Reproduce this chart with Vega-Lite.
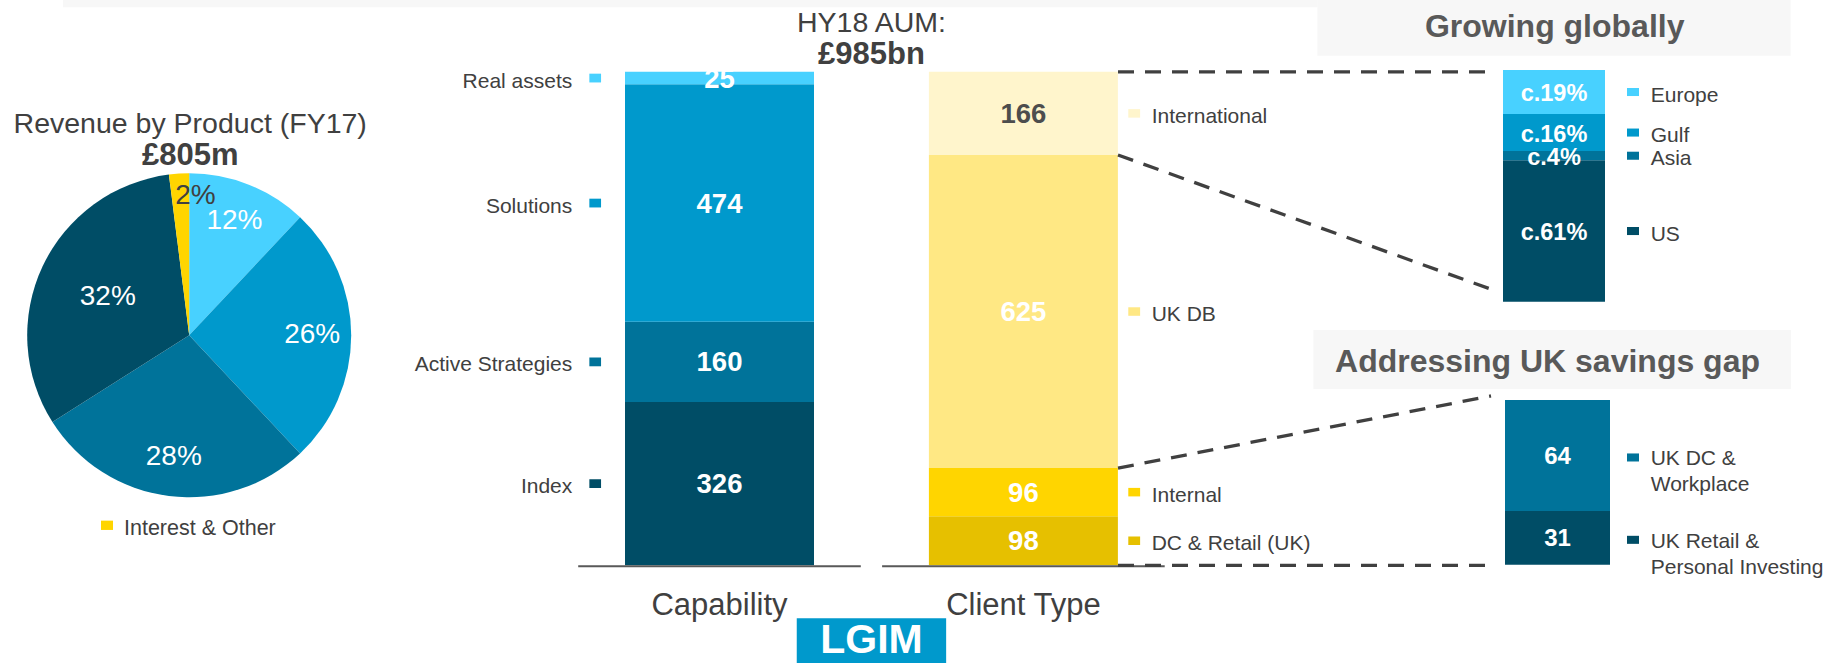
{
  "$schema": "https://vega.github.io/schema/vega-lite/v6.json",
  "width": 1830,
  "height": 663,
  "padding": 0,
  "autosize": {"type": "none"},
  "background": "#FFFFFF",
  "config": {"view": {"stroke": null}, "font": "Liberation Sans"},
  "datasets": {
    "pie": [
      {"segment": "Real assets", "share": 0.12, "rank": 1},
      {"segment": "Solutions", "share": 0.26, "rank": 2},
      {"segment": "Active Strategies", "share": 0.28, "rank": 3},
      {"segment": "Index", "share": 0.32, "rank": 4},
      {"segment": "Interest & Other", "share": 0.02, "rank": 5}
    ],
    "aum": [
      {"chart": "Capability", "segment": "Index", "value": 326, "rank": 1},
      {"chart": "Capability", "segment": "Active Strategies", "value": 160, "rank": 2},
      {"chart": "Capability", "segment": "Solutions", "value": 474, "rank": 3},
      {"chart": "Capability", "segment": "Real assets", "value": 25, "rank": 4},
      {"chart": "Client Type", "segment": "DC & Retail (UK)", "value": 98, "rank": 1},
      {"chart": "Client Type", "segment": "Internal", "value": 96, "rank": 2},
      {"chart": "Client Type", "segment": "UK DB", "value": 625, "rank": 3},
      {"chart": "Client Type", "segment": "International", "value": 166, "rank": 4}
    ],
    "zoom": [
      {"panel": "Growing globally", "segment": "US", "value": 61, "label": "c.61%", "rank": 1},
      {"panel": "Growing globally", "segment": "Asia", "value": 4, "label": "c.4%", "rank": 2},
      {"panel": "Growing globally", "segment": "Gulf", "value": 16, "label": "c.16%", "rank": 3},
      {"panel": "Growing globally", "segment": "Europe", "value": 19, "label": "c.19%", "rank": 4},
      {"panel": "Addressing UK savings gap", "segment": "UK Retail &\nPersonal Investing", "value": 31, "label": "31", "rank": 1},
      {"panel": "Addressing UK savings gap", "segment": "UK DC &\nWorkplace", "value": 64, "label": "64", "rank": 2}
    ],
    "links": [
      {"link": "International top", "end": "Client Type", "aum": 985},
      {"link": "International top", "end": "Zoom", "aum": 985},
      {"link": "International base", "end": "Client Type", "aum": 819},
      {"link": "International base", "end": "Zoom", "aum": 551},
      {"link": "UK DC top", "end": "Client Type", "aum": 194},
      {"link": "UK DC top", "end": "Zoom", "aum": 338},
      {"link": "UK DC base", "end": "Client Type", "aum": 0},
      {"link": "UK DC base", "end": "Zoom", "aum": 0}
    ]
  },
  "resolve": {"scale": {"x": "independent", "y": "independent"}},
  "layer": [
    {
      "data": {"values": [{}]},
      "mark": {"type": "bar", "width": 1254.7, "xOffset": -181.1, "color": "#F7F7F7"},
      "encoding": {
        "x": {"datum": "AUM", "type": "nominal", "scale": {"type": "point", "domain": ["Capability", "AUM", "Client Type"], "range": [719.5, 1023.4], "padding": 0}, "axis": null},
        "y": {"datum": 1113.7, "type": "quantitative", "scale": {"domain": [0, 985], "range": [565.3, 71.8], "nice": false, "zero": false}, "axis": null},
        "y2": {"datum": 1131}
      }
    },
    {
      "data": {"values": [{}]},
      "mark": {"type": "bar", "width": 473.3, "color": "#F7F7F7"},
      "encoding": {
        "x": {"datum": "Growing globally", "type": "nominal", "scale": {"type": "point", "domain": ["Growing globally", "Addressing UK savings gap"], "range": [1554, 1557.5], "padding": 0}, "axis": null},
        "y": {"datum": 106.2, "type": "quantitative", "scale": {"domain": [0, 100], "range": [301.7, 70], "nice": false, "zero": false}, "axis": null},
        "y2": {"datum": 131}
      }
    },
    {
      "data": {"values": [{}]},
      "mark": {"type": "bar", "width": 477.7, "xOffset": -5.3, "color": "#F7F7F7"},
      "encoding": {
        "x": {"datum": "Addressing UK savings gap", "type": "nominal", "scale": {"type": "point", "domain": ["Growing globally", "Addressing UK savings gap"], "range": [1554, 1557.5], "padding": 0}, "axis": null},
        "y": {"datum": 101.3, "type": "quantitative", "scale": {"domain": [0, 95], "range": [564.7, 400], "nice": false, "zero": false}, "axis": null},
        "y2": {"datum": 135.4}
      }
    },
    {
      "data": {"name": "pie"},
      "mark": {"type": "arc", "outerRadius": 162},
      "encoding": {
        "x": {"datum": "pie", "type": "nominal", "scale": {"type": "point", "domain": ["pie"], "range": [189.2, 189.2]}, "axis": null},
        "y": {"datum": "pie", "type": "nominal", "scale": {"type": "point", "domain": ["pie"], "range": [335.3, 335.3]}, "axis": null},
        "theta": {"field": "share", "type": "quantitative", "stack": true, "scale": {"domain": [0, 1], "range": [0, 6.283185]}},
        "order": {"field": "rank", "type": "quantitative"},
        "color": {"field": "segment", "type": "nominal", "legend": null, "scale": {"domain": ["Real assets", "Solutions", "Active Strategies", "Index", "Interest & Other", "International", "UK DB", "Internal", "DC & Retail (UK)", "Europe", "Gulf", "Asia", "US", "UK DC &\nWorkplace", "UK Retail &\nPersonal Investing"], "range": ["#48D1FF", "#0099CC", "#00739A", "#004D66", "#FFD500", "#FFF5CC", "#FFE884", "#FFD500", "#E6C000", "#48D1FF", "#0099CC", "#00739A", "#004D66", "#00739A", "#004D66"]}}
      }
    },
    {
      "data": {"name": "pie"},
      "transform": [
        {"stack": "share", "groupby": [], "sort": [{"field": "rank", "order": "ascending"}], "as": ["t0", "t1"]},
        {"fold": ["t0", "t1"], "as": ["edge", "t"]},
        {"aggregate": [{"op": "mean", "field": "t", "as": "tmid"}], "groupby": ["segment", "share"]},
        {"filter": {"field": "segment", "oneOf": ["Real assets", "Solutions", "Active Strategies"]}}
      ],
      "mark": {"type": "text", "radius": 123, "fontSize": 28, "color": "#FFFFFF", "align": "center", "baseline": "middle"},
      "encoding": {
        "x": {"datum": "pie", "type": "nominal", "scale": {"type": "point", "domain": ["pie"], "range": [189.2, 189.2]}, "axis": null},
        "y": {"datum": "pie", "type": "nominal", "scale": {"type": "point", "domain": ["pie"], "range": [335.3, 335.3]}, "axis": null},
        "theta": {"field": "tmid", "type": "quantitative", "stack": null, "scale": {"domain": [0, 1], "range": [0, 6.283185]}},
        "text": {"field": "share", "type": "quantitative", "format": ".0%"}
      }
    },
    {
      "data": {"name": "pie"},
      "transform": [
        {"stack": "share", "groupby": [], "sort": [{"field": "rank", "order": "ascending"}], "as": ["t0", "t1"]},
        {"fold": ["t0", "t1"], "as": ["edge", "t"]},
        {"aggregate": [{"op": "mean", "field": "t", "as": "tmid"}], "groupby": ["segment", "share"]},
        {"filter": {"field": "segment", "equal": "Index"}}
      ],
      "mark": {"type": "text", "radius": 90, "fontSize": 28, "color": "#FFFFFF", "align": "center", "baseline": "middle"},
      "encoding": {
        "x": {"datum": "pie", "type": "nominal", "scale": {"type": "point", "domain": ["pie"], "range": [189.2, 189.2]}, "axis": null},
        "y": {"datum": "pie", "type": "nominal", "scale": {"type": "point", "domain": ["pie"], "range": [335.3, 335.3]}, "axis": null},
        "theta": {"field": "tmid", "type": "quantitative", "stack": null, "scale": {"domain": [0, 1], "range": [0, 6.283185]}},
        "text": {"field": "share", "type": "quantitative", "format": ".0%"}
      }
    },
    {
      "data": {"name": "pie"},
      "transform": [
        {"stack": "share", "groupby": [], "sort": [{"field": "rank", "order": "ascending"}], "as": ["t0", "t1"]},
        {"fold": ["t0", "t1"], "as": ["edge", "t"]},
        {"aggregate": [{"op": "mean", "field": "t", "as": "tmid"}], "groupby": ["segment", "share"]},
        {"filter": {"field": "segment", "equal": "Interest & Other"}}
      ],
      "mark": {"type": "text", "radius": 140, "dx": 15, "fontSize": 28, "color": "#404040", "align": "center", "baseline": "middle"},
      "encoding": {
        "x": {"datum": "pie", "type": "nominal", "scale": {"type": "point", "domain": ["pie"], "range": [189.2, 189.2]}, "axis": null},
        "y": {"datum": "pie", "type": "nominal", "scale": {"type": "point", "domain": ["pie"], "range": [335.3, 335.3]}, "axis": null},
        "theta": {"field": "tmid", "type": "quantitative", "stack": null, "scale": {"domain": [0, 1], "range": [0, 6.283185]}},
        "text": {"field": "share", "type": "quantitative", "format": ".0%"}
      }
    },
    {
      "data": {"values": [{}]},
      "mark": {"type": "text", "text": "Revenue by Product (FY17)", "fontSize": 28.5, "color": "#404040", "align": "center", "baseline": "alphabetic", "dx": 1, "dy": -202.5},
      "encoding": {
        "x": {"datum": "pie", "type": "nominal", "scale": {"type": "point", "domain": ["pie"], "range": [189.2, 189.2]}, "axis": null},
        "y": {"datum": "pie", "type": "nominal", "scale": {"type": "point", "domain": ["pie"], "range": [335.3, 335.3]}, "axis": null}
      }
    },
    {
      "data": {"values": [{}]},
      "mark": {"type": "text", "text": "£805m", "fontSize": 31, "fontWeight": "bold", "color": "#404040", "align": "center", "baseline": "alphabetic", "dx": 1, "dy": -170.8},
      "encoding": {
        "x": {"datum": "pie", "type": "nominal", "scale": {"type": "point", "domain": ["pie"], "range": [189.2, 189.2]}, "axis": null},
        "y": {"datum": "pie", "type": "nominal", "scale": {"type": "point", "domain": ["pie"], "range": [335.3, 335.3]}, "axis": null}
      }
    },
    {
      "data": {"name": "pie"},
      "transform": [{"filter": {"field": "segment", "equal": "Interest & Other"}}],
      "mark": {"type": "point", "shape": "M-1,-0.775H1V0.775H-1Z", "size": 144, "filled": true, "opacity": 1, "strokeWidth": 0, "xOffset": -82.2, "yOffset": 190},
      "encoding": {
        "x": {"datum": "pie", "type": "nominal", "scale": {"type": "point", "domain": ["pie"], "range": [189.2, 189.2]}, "axis": null},
        "y": {"datum": "pie", "type": "nominal", "scale": {"type": "point", "domain": ["pie"], "range": [335.3, 335.3]}, "axis": null},
        "color": {"field": "segment", "type": "nominal", "legend": null, "scale": {"domain": ["Real assets", "Solutions", "Active Strategies", "Index", "Interest & Other", "International", "UK DB", "Internal", "DC & Retail (UK)", "Europe", "Gulf", "Asia", "US", "UK DC &\nWorkplace", "UK Retail &\nPersonal Investing"], "range": ["#48D1FF", "#0099CC", "#00739A", "#004D66", "#FFD500", "#FFF5CC", "#FFE884", "#FFD500", "#E6C000", "#48D1FF", "#0099CC", "#00739A", "#004D66", "#00739A", "#004D66"]}}
      }
    },
    {
      "data": {"name": "pie"},
      "transform": [{"filter": {"field": "segment", "equal": "Interest & Other"}}],
      "mark": {"type": "text", "fontSize": 21.5, "color": "#404040", "align": "left", "baseline": "alphabetic", "dx": -65.2, "dy": 199.7},
      "encoding": {
        "x": {"datum": "pie", "type": "nominal", "scale": {"type": "point", "domain": ["pie"], "range": [189.2, 189.2]}, "axis": null},
        "y": {"datum": "pie", "type": "nominal", "scale": {"type": "point", "domain": ["pie"], "range": [335.3, 335.3]}, "axis": null},
        "text": {"field": "segment", "type": "nominal"}
      }
    },
    {
      "data": {"values": [{}]},
      "mark": {"type": "text", "text": "HY18 AUM:", "fontSize": 28.5, "color": "#404040", "align": "center", "baseline": "alphabetic", "dy": -39.8},
      "encoding": {
        "x": {"datum": "AUM", "type": "nominal", "scale": {"type": "point", "domain": ["Capability", "AUM", "Client Type"], "range": [719.5, 1023.4], "padding": 0}, "axis": null},
        "y": {"datum": 985, "type": "quantitative", "scale": {"domain": [0, 985], "range": [565.3, 71.8], "nice": false, "zero": false}, "axis": null}
      }
    },
    {
      "data": {"values": [{}]},
      "mark": {"type": "text", "text": "£985bn", "fontSize": 31, "fontWeight": "bold", "color": "#404040", "align": "center", "baseline": "alphabetic", "dy": -8.2},
      "encoding": {
        "x": {"datum": "AUM", "type": "nominal", "scale": {"type": "point", "domain": ["Capability", "AUM", "Client Type"], "range": [719.5, 1023.4], "padding": 0}, "axis": null},
        "y": {"datum": 985, "type": "quantitative", "scale": {"domain": [0, 985], "range": [565.3, 71.8], "nice": false, "zero": false}, "axis": null}
      }
    },
    {
      "data": {"name": "aum"},
      "transform": [{"stack": "value", "groupby": ["chart"], "sort": [{"field": "rank", "order": "ascending"}], "as": ["lo", "hi"]}],
      "mark": {"type": "bar", "width": 189},
      "encoding": {
        "x": {"field": "chart", "type": "nominal", "scale": {"type": "point", "domain": ["Capability", "AUM", "Client Type"], "range": [719.5, 1023.4], "padding": 0}, "axis": null},
        "y": {"field": "lo", "type": "quantitative", "scale": {"domain": [0, 985], "range": [565.3, 71.8], "nice": false, "zero": false}, "axis": null},
        "y2": {"field": "hi"},
        "color": {"field": "segment", "type": "nominal", "legend": null, "scale": {"domain": ["Real assets", "Solutions", "Active Strategies", "Index", "Interest & Other", "International", "UK DB", "Internal", "DC & Retail (UK)", "Europe", "Gulf", "Asia", "US", "UK DC &\nWorkplace", "UK Retail &\nPersonal Investing"], "range": ["#48D1FF", "#0099CC", "#00739A", "#004D66", "#FFD500", "#FFF5CC", "#FFE884", "#FFD500", "#E6C000", "#48D1FF", "#0099CC", "#00739A", "#004D66", "#00739A", "#004D66"]}}
      }
    },
    {
      "data": {"name": "aum"},
      "transform": [
        {"stack": "value", "groupby": ["chart"], "sort": [{"field": "rank", "order": "ascending"}], "as": ["lo", "hi"]},
        {"fold": ["lo", "hi"], "as": ["edge", "pos"]},
        {"aggregate": [{"op": "mean", "field": "pos", "as": "mid"}], "groupby": ["chart", "segment", "value"]}
      ],
      "mark": {"type": "text", "fontSize": 27.5, "fontWeight": "bold", "align": "center", "baseline": "middle", "dy": 1.5},
      "encoding": {
        "x": {"field": "chart", "type": "nominal", "scale": {"type": "point", "domain": ["Capability", "AUM", "Client Type"], "range": [719.5, 1023.4], "padding": 0}, "axis": null},
        "y": {"field": "mid", "type": "quantitative", "scale": {"domain": [0, 985], "range": [565.3, 71.8], "nice": false, "zero": false}, "axis": null},
        "text": {"field": "value", "type": "quantitative"},
        "color": {"condition": {"test": "datum.segment === 'International'", "value": "#4D4D4D"}, "value": "#FFFFFF"}
      }
    },
    {
      "data": {"name": "aum"},
      "transform": [
        {"stack": "value", "groupby": ["chart"], "sort": [{"field": "rank", "order": "ascending"}], "as": ["lo", "hi"]},
        {"fold": ["lo", "hi"], "as": ["edge", "pos"]},
        {"aggregate": [{"op": "mean", "field": "pos", "as": "mid"}], "groupby": ["chart", "segment", "value"]},
        {"filter": {"field": "chart", "equal": "Capability"}}
      ],
      "mark": {"type": "point", "shape": "M-1,-0.75H1V0.75H-1Z", "size": 137, "filled": true, "opacity": 1, "strokeWidth": 0, "xOffset": -124.3},
      "encoding": {
        "x": {"field": "chart", "type": "nominal", "scale": {"type": "point", "domain": ["Capability", "AUM", "Client Type"], "range": [719.5, 1023.4], "padding": 0}, "axis": null},
        "y": {"field": "mid", "type": "quantitative", "scale": {"domain": [0, 985], "range": [565.3, 71.8], "nice": false, "zero": false}, "axis": null},
        "color": {"field": "segment", "type": "nominal", "legend": null, "scale": {"domain": ["Real assets", "Solutions", "Active Strategies", "Index", "Interest & Other", "International", "UK DB", "Internal", "DC & Retail (UK)", "Europe", "Gulf", "Asia", "US", "UK DC &\nWorkplace", "UK Retail &\nPersonal Investing"], "range": ["#48D1FF", "#0099CC", "#00739A", "#004D66", "#FFD500", "#FFF5CC", "#FFE884", "#FFD500", "#E6C000", "#48D1FF", "#0099CC", "#00739A", "#004D66", "#00739A", "#004D66"]}}
      }
    },
    {
      "data": {"name": "aum"},
      "transform": [
        {"stack": "value", "groupby": ["chart"], "sort": [{"field": "rank", "order": "ascending"}], "as": ["lo", "hi"]},
        {"fold": ["lo", "hi"], "as": ["edge", "pos"]},
        {"aggregate": [{"op": "mean", "field": "pos", "as": "mid"}], "groupby": ["chart", "segment", "value"]},
        {"filter": {"field": "chart", "equal": "Capability"}}
      ],
      "mark": {"type": "text", "fontSize": 21, "color": "#404040", "align": "right", "baseline": "middle", "dx": -147.2, "dy": 3.5},
      "encoding": {
        "x": {"field": "chart", "type": "nominal", "scale": {"type": "point", "domain": ["Capability", "AUM", "Client Type"], "range": [719.5, 1023.4], "padding": 0}, "axis": null},
        "y": {"field": "mid", "type": "quantitative", "scale": {"domain": [0, 985], "range": [565.3, 71.8], "nice": false, "zero": false}, "axis": null},
        "text": {"field": "segment", "type": "nominal"}
      }
    },
    {
      "data": {"name": "aum"},
      "transform": [
        {"stack": "value", "groupby": ["chart"], "sort": [{"field": "rank", "order": "ascending"}], "as": ["lo", "hi"]},
        {"fold": ["lo", "hi"], "as": ["edge", "pos"]},
        {"aggregate": [{"op": "mean", "field": "pos", "as": "mid"}], "groupby": ["chart", "segment", "value"]},
        {"filter": {"field": "chart", "equal": "Client Type"}}
      ],
      "mark": {"type": "point", "shape": "M-1,-0.72H1V0.72H-1Z", "size": 140, "filled": true, "opacity": 1, "strokeWidth": 0, "xOffset": 110.8},
      "encoding": {
        "x": {"field": "chart", "type": "nominal", "scale": {"type": "point", "domain": ["Capability", "AUM", "Client Type"], "range": [719.5, 1023.4], "padding": 0}, "axis": null},
        "y": {"field": "mid", "type": "quantitative", "scale": {"domain": [0, 985], "range": [565.3, 71.8], "nice": false, "zero": false}, "axis": null},
        "color": {"field": "segment", "type": "nominal", "legend": null, "scale": {"domain": ["Real assets", "Solutions", "Active Strategies", "Index", "Interest & Other", "International", "UK DB", "Internal", "DC & Retail (UK)", "Europe", "Gulf", "Asia", "US", "UK DC &\nWorkplace", "UK Retail &\nPersonal Investing"], "range": ["#48D1FF", "#0099CC", "#00739A", "#004D66", "#FFD500", "#FFF5CC", "#FFE884", "#FFD500", "#E6C000", "#48D1FF", "#0099CC", "#00739A", "#004D66", "#00739A", "#004D66"]}}
      }
    },
    {
      "data": {"name": "aum"},
      "transform": [
        {"stack": "value", "groupby": ["chart"], "sort": [{"field": "rank", "order": "ascending"}], "as": ["lo", "hi"]},
        {"fold": ["lo", "hi"], "as": ["edge", "pos"]},
        {"aggregate": [{"op": "mean", "field": "pos", "as": "mid"}], "groupby": ["chart", "segment", "value"]},
        {"filter": {"field": "chart", "equal": "Client Type"}}
      ],
      "mark": {"type": "text", "fontSize": 21, "color": "#404040", "align": "left", "baseline": "middle", "dx": 128.3, "dy": 3.5},
      "encoding": {
        "x": {"field": "chart", "type": "nominal", "scale": {"type": "point", "domain": ["Capability", "AUM", "Client Type"], "range": [719.5, 1023.4], "padding": 0}, "axis": null},
        "y": {"field": "mid", "type": "quantitative", "scale": {"domain": [0, 985], "range": [565.3, 71.8], "nice": false, "zero": false}, "axis": null},
        "text": {"field": "segment", "type": "nominal"}
      }
    },
    {
      "data": {"name": "aum"},
      "transform": [{"aggregate": [{"op": "sum", "field": "value", "as": "total"}], "groupby": ["chart"]}],
      "mark": {"type": "rule", "xOffset": -141.3, "x2Offset": 141.3, "yOffset": 1, "strokeWidth": 2, "color": "#595959"},
      "encoding": {
        "x": {"field": "chart", "type": "nominal", "scale": {"type": "point", "domain": ["Capability", "AUM", "Client Type"], "range": [719.5, 1023.4], "padding": 0}, "axis": null},
        "x2": {"field": "chart"},
        "y": {"datum": 0, "type": "quantitative", "scale": {"domain": [0, 985], "range": [565.3, 71.8], "nice": false, "zero": false}, "axis": null}
      }
    },
    {
      "data": {"name": "aum"},
      "transform": [{"aggregate": [{"op": "sum", "field": "value", "as": "total"}], "groupby": ["chart"]}],
      "mark": {"type": "text", "fontSize": 31, "color": "#404040", "align": "center", "baseline": "alphabetic", "dy": 49.7},
      "encoding": {
        "x": {"field": "chart", "type": "nominal", "scale": {"type": "point", "domain": ["Capability", "AUM", "Client Type"], "range": [719.5, 1023.4], "padding": 0}, "axis": null},
        "y": {"datum": 0, "type": "quantitative", "scale": {"domain": [0, 985], "range": [565.3, 71.8], "nice": false, "zero": false}, "axis": null},
        "text": {"field": "chart", "type": "nominal"}
      }
    },
    {
      "data": {"values": [{}]},
      "mark": {"type": "bar", "width": 149.4, "color": "#0099CC"},
      "encoding": {
        "x": {"datum": "AUM", "type": "nominal", "scale": {"type": "point", "domain": ["Capability", "AUM", "Client Type"], "range": [719.5, 1023.4], "padding": 0}, "axis": null},
        "y": {"datum": -105.8, "type": "quantitative", "scale": {"domain": [0, 985], "range": [565.3, 71.8], "nice": false, "zero": false}, "axis": null},
        "y2": {"datum": -200}
      }
    },
    {
      "data": {"values": [{}]},
      "mark": {"type": "text", "text": "LGIM", "fontSize": 41, "fontWeight": "bold", "color": "#FFFFFF", "align": "center", "baseline": "alphabetic", "dy": 87.5},
      "encoding": {
        "x": {"datum": "AUM", "type": "nominal", "scale": {"type": "point", "domain": ["Capability", "AUM", "Client Type"], "range": [719.5, 1023.4], "padding": 0}, "axis": null},
        "y": {"datum": 0, "type": "quantitative", "scale": {"domain": [0, 985], "range": [565.3, 71.8], "nice": false, "zero": false}, "axis": null}
      }
    },
    {
      "data": {"name": "links"},
      "mark": {"type": "line", "strokeDash": [16, 11], "strokeWidth": 3.3, "color": "#404040"},
      "encoding": {
        "x": {"field": "end", "type": "nominal", "scale": {"type": "point", "domain": ["Client Type", "Zoom"], "range": [1118, 1491], "padding": 0}, "axis": null},
        "y": {"field": "aum", "type": "quantitative", "scale": {"domain": [0, 985], "range": [565.3, 71.8], "nice": false, "zero": false}, "axis": null},
        "detail": {"field": "link", "type": "nominal"}
      }
    },
    {
      "data": {"name": "zoom"},
      "transform": [
        {"filter": {"field": "panel", "equal": "Growing globally"}},
        {"stack": "value", "groupby": ["panel"], "sort": [{"field": "rank", "order": "ascending"}], "as": ["lo", "hi"]}
      ],
      "mark": {"type": "bar", "width": 102},
      "encoding": {
        "x": {"field": "panel", "type": "nominal", "scale": {"type": "point", "domain": ["Growing globally", "Addressing UK savings gap"], "range": [1554, 1557.5], "padding": 0}, "axis": null},
        "y": {"field": "lo", "type": "quantitative", "scale": {"domain": [0, 100], "range": [301.7, 70], "nice": false, "zero": false}, "axis": null},
        "y2": {"field": "hi"},
        "color": {"field": "segment", "type": "nominal", "legend": null, "scale": {"domain": ["Real assets", "Solutions", "Active Strategies", "Index", "Interest & Other", "International", "UK DB", "Internal", "DC & Retail (UK)", "Europe", "Gulf", "Asia", "US", "UK DC &\nWorkplace", "UK Retail &\nPersonal Investing"], "range": ["#48D1FF", "#0099CC", "#00739A", "#004D66", "#FFD500", "#FFF5CC", "#FFE884", "#FFD500", "#E6C000", "#48D1FF", "#0099CC", "#00739A", "#004D66", "#00739A", "#004D66"]}}
      }
    },
    {
      "data": {"name": "zoom"},
      "transform": [
        {"filter": {"field": "panel", "equal": "Growing globally"}},
        {"stack": "value", "groupby": ["panel"], "sort": [{"field": "rank", "order": "ascending"}], "as": ["lo", "hi"]},
        {"fold": ["lo", "hi"], "as": ["edge", "pos"]},
        {"aggregate": [{"op": "mean", "field": "pos", "as": "mid"}], "groupby": ["panel", "segment", "label"]}
      ],
      "mark": {"type": "text", "fontSize": 23.5, "fontWeight": "bold", "color": "#FFFFFF", "align": "center", "baseline": "middle", "dy": 2},
      "encoding": {
        "x": {"field": "panel", "type": "nominal", "scale": {"type": "point", "domain": ["Growing globally", "Addressing UK savings gap"], "range": [1554, 1557.5], "padding": 0}, "axis": null},
        "y": {"field": "mid", "type": "quantitative", "scale": {"domain": [0, 100], "range": [301.7, 70], "nice": false, "zero": false}, "axis": null},
        "text": {"field": "label", "type": "nominal"}
      }
    },
    {
      "data": {"name": "zoom"},
      "transform": [
        {"filter": {"field": "panel", "equal": "Growing globally"}},
        {"stack": "value", "groupby": ["panel"], "sort": [{"field": "rank", "order": "ascending"}], "as": ["lo", "hi"]},
        {"fold": ["lo", "hi"], "as": ["edge", "pos"]},
        {"aggregate": [{"op": "mean", "field": "pos", "as": "mid"}], "groupby": ["panel", "segment", "label"]}
      ],
      "mark": {"type": "point", "shape": "M-1,-0.67H1V0.67H-1Z", "size": 144, "filled": true, "opacity": 1, "strokeWidth": 0, "xOffset": 79},
      "encoding": {
        "x": {"field": "panel", "type": "nominal", "scale": {"type": "point", "domain": ["Growing globally", "Addressing UK savings gap"], "range": [1554, 1557.5], "padding": 0}, "axis": null},
        "y": {"field": "mid", "type": "quantitative", "scale": {"domain": [0, 100], "range": [301.7, 70], "nice": false, "zero": false}, "axis": null},
        "color": {"field": "segment", "type": "nominal", "legend": null, "scale": {"domain": ["Real assets", "Solutions", "Active Strategies", "Index", "Interest & Other", "International", "UK DB", "Internal", "DC & Retail (UK)", "Europe", "Gulf", "Asia", "US", "UK DC &\nWorkplace", "UK Retail &\nPersonal Investing"], "range": ["#48D1FF", "#0099CC", "#00739A", "#004D66", "#FFD500", "#FFF5CC", "#FFE884", "#FFD500", "#E6C000", "#48D1FF", "#0099CC", "#00739A", "#004D66", "#00739A", "#004D66"]}}
      }
    },
    {
      "data": {"name": "zoom"},
      "transform": [
        {"filter": {"field": "panel", "equal": "Growing globally"}},
        {"stack": "value", "groupby": ["panel"], "sort": [{"field": "rank", "order": "ascending"}], "as": ["lo", "hi"]},
        {"fold": ["lo", "hi"], "as": ["edge", "pos"]},
        {"aggregate": [{"op": "mean", "field": "pos", "as": "mid"}], "groupby": ["panel", "segment", "label"]}
      ],
      "mark": {"type": "text", "fontSize": 21, "color": "#404040", "align": "left", "baseline": "middle", "dx": 96.7, "dy": 3.5},
      "encoding": {
        "x": {"field": "panel", "type": "nominal", "scale": {"type": "point", "domain": ["Growing globally", "Addressing UK savings gap"], "range": [1554, 1557.5], "padding": 0}, "axis": null},
        "y": {"field": "mid", "type": "quantitative", "scale": {"domain": [0, 100], "range": [301.7, 70], "nice": false, "zero": false}, "axis": null},
        "text": {"field": "segment", "type": "nominal"}
      }
    },
    {
      "data": {"name": "zoom"},
      "transform": [
        {"filter": {"field": "panel", "equal": "Growing globally"}},
        {"aggregate": [{"op": "sum", "field": "value", "as": "total"}], "groupby": ["panel"]}
      ],
      "mark": {"type": "text", "fontSize": 32, "fontWeight": "bold", "color": "#595959", "align": "center", "baseline": "alphabetic", "dx": 0.7, "dy": -32.7},
      "encoding": {
        "x": {"field": "panel", "type": "nominal", "scale": {"type": "point", "domain": ["Growing globally", "Addressing UK savings gap"], "range": [1554, 1557.5], "padding": 0}, "axis": null},
        "y": {"field": "total", "type": "quantitative", "scale": {"domain": [0, 100], "range": [301.7, 70], "nice": false, "zero": false}, "axis": null},
        "text": {"field": "panel", "type": "nominal"}
      }
    },
    {
      "data": {"name": "zoom"},
      "transform": [
        {"filter": {"field": "panel", "equal": "Addressing UK savings gap"}},
        {"stack": "value", "groupby": ["panel"], "sort": [{"field": "rank", "order": "ascending"}], "as": ["lo", "hi"]}
      ],
      "mark": {"type": "bar", "width": 105},
      "encoding": {
        "x": {"field": "panel", "type": "nominal", "scale": {"type": "point", "domain": ["Growing globally", "Addressing UK savings gap"], "range": [1554, 1557.5], "padding": 0}, "axis": null},
        "y": {"field": "lo", "type": "quantitative", "scale": {"domain": [0, 95], "range": [564.7, 400], "nice": false, "zero": false}, "axis": null},
        "y2": {"field": "hi"},
        "color": {"field": "segment", "type": "nominal", "legend": null, "scale": {"domain": ["Real assets", "Solutions", "Active Strategies", "Index", "Interest & Other", "International", "UK DB", "Internal", "DC & Retail (UK)", "Europe", "Gulf", "Asia", "US", "UK DC &\nWorkplace", "UK Retail &\nPersonal Investing"], "range": ["#48D1FF", "#0099CC", "#00739A", "#004D66", "#FFD500", "#FFF5CC", "#FFE884", "#FFD500", "#E6C000", "#48D1FF", "#0099CC", "#00739A", "#004D66", "#00739A", "#004D66"]}}
      }
    },
    {
      "data": {"name": "zoom"},
      "transform": [
        {"filter": {"field": "panel", "equal": "Addressing UK savings gap"}},
        {"stack": "value", "groupby": ["panel"], "sort": [{"field": "rank", "order": "ascending"}], "as": ["lo", "hi"]},
        {"fold": ["lo", "hi"], "as": ["edge", "pos"]},
        {"aggregate": [{"op": "mean", "field": "pos", "as": "mid"}], "groupby": ["panel", "segment", "label"]}
      ],
      "mark": {"type": "text", "fontSize": 24, "fontWeight": "bold", "color": "#FFFFFF", "align": "center", "baseline": "middle", "dy": 1.5},
      "encoding": {
        "x": {"field": "panel", "type": "nominal", "scale": {"type": "point", "domain": ["Growing globally", "Addressing UK savings gap"], "range": [1554, 1557.5], "padding": 0}, "axis": null},
        "y": {"field": "mid", "type": "quantitative", "scale": {"domain": [0, 95], "range": [564.7, 400], "nice": false, "zero": false}, "axis": null},
        "text": {"field": "label", "type": "nominal"}
      }
    },
    {
      "data": {"name": "zoom"},
      "transform": [
        {"filter": {"field": "panel", "equal": "Addressing UK savings gap"}},
        {"stack": "value", "groupby": ["panel"], "sort": [{"field": "rank", "order": "ascending"}], "as": ["lo", "hi"]},
        {"fold": ["lo", "hi"], "as": ["edge", "pos"]},
        {"aggregate": [{"op": "mean", "field": "pos", "as": "mid"}], "groupby": ["panel", "segment", "label"]}
      ],
      "mark": {"type": "point", "shape": "M-1,-0.67H1V0.67H-1Z", "size": 144, "filled": true, "opacity": 1, "strokeWidth": 0, "xOffset": 75.5, "yOffset": 2},
      "encoding": {
        "x": {"field": "panel", "type": "nominal", "scale": {"type": "point", "domain": ["Growing globally", "Addressing UK savings gap"], "range": [1554, 1557.5], "padding": 0}, "axis": null},
        "y": {"field": "mid", "type": "quantitative", "scale": {"domain": [0, 95], "range": [564.7, 400], "nice": false, "zero": false}, "axis": null},
        "color": {"field": "segment", "type": "nominal", "legend": null, "scale": {"domain": ["Real assets", "Solutions", "Active Strategies", "Index", "Interest & Other", "International", "UK DB", "Internal", "DC & Retail (UK)", "Europe", "Gulf", "Asia", "US", "UK DC &\nWorkplace", "UK Retail &\nPersonal Investing"], "range": ["#48D1FF", "#0099CC", "#00739A", "#004D66", "#FFD500", "#FFF5CC", "#FFE884", "#FFD500", "#E6C000", "#48D1FF", "#0099CC", "#00739A", "#004D66", "#00739A", "#004D66"]}}
      }
    },
    {
      "data": {"name": "zoom"},
      "transform": [
        {"filter": {"field": "panel", "equal": "Addressing UK savings gap"}},
        {"stack": "value", "groupby": ["panel"], "sort": [{"field": "rank", "order": "ascending"}], "as": ["lo", "hi"]},
        {"fold": ["lo", "hi"], "as": ["edge", "pos"]},
        {"aggregate": [{"op": "mean", "field": "pos", "as": "mid"}], "groupby": ["panel", "segment", "label"]}
      ],
      "mark": {"type": "text", "fontSize": 21, "color": "#404040", "align": "left", "baseline": "alphabetic", "dx": 93.2, "dy": 10, "lineBreak": "\n", "lineHeight": 26},
      "encoding": {
        "x": {"field": "panel", "type": "nominal", "scale": {"type": "point", "domain": ["Growing globally", "Addressing UK savings gap"], "range": [1554, 1557.5], "padding": 0}, "axis": null},
        "y": {"field": "mid", "type": "quantitative", "scale": {"domain": [0, 95], "range": [564.7, 400], "nice": false, "zero": false}, "axis": null},
        "text": {"field": "segment", "type": "nominal"}
      }
    },
    {
      "data": {"name": "zoom"},
      "transform": [
        {"filter": {"field": "panel", "equal": "Addressing UK savings gap"}},
        {"aggregate": [{"op": "sum", "field": "value", "as": "total"}], "groupby": ["panel"]}
      ],
      "mark": {"type": "text", "fontSize": 32, "fontWeight": "bold", "color": "#595959", "align": "center", "baseline": "alphabetic", "dx": -10, "dy": -28.3},
      "encoding": {
        "x": {"field": "panel", "type": "nominal", "scale": {"type": "point", "domain": ["Growing globally", "Addressing UK savings gap"], "range": [1554, 1557.5], "padding": 0}, "axis": null},
        "y": {"field": "total", "type": "quantitative", "scale": {"domain": [0, 95], "range": [564.7, 400], "nice": false, "zero": false}, "axis": null},
        "text": {"field": "panel", "type": "nominal"}
      }
    }
  ]
}
